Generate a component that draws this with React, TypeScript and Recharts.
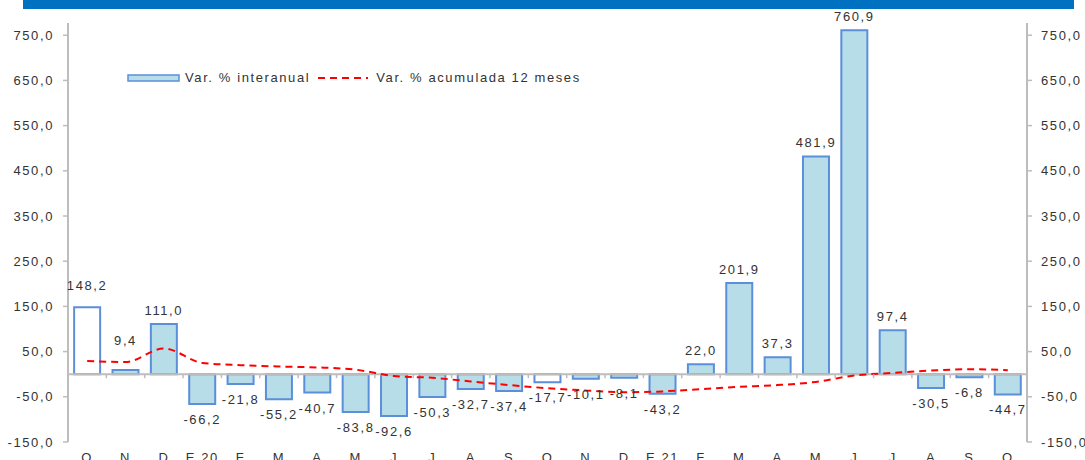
import React from 'react';
import { ComposedChart, Bar, Line, XAxis, YAxis, ReferenceLine, LabelList, Cell } from 'recharts';

const months = ['O', 'N', 'D', 'E 20', 'F', 'M', 'A', 'M', 'J', 'J', 'A', 'S', 'O', 'N', 'D', 'E 21', 'F', 'M', 'A', 'M', 'J', 'J', 'A', 'S', 'O'];
const interanual = [148.2, 9.4, 111.0, -66.2, -21.8, -55.2, -40.7, -83.8, -92.6, -50.3, -32.7, -37.4, -17.7, -10.1, -8.1, -43.2, 22.0, 201.9, 37.3, 481.9, 760.9, 97.4, -30.5, -6.8, -44.7];
const acumulada = [29, 27, 57, 25, 20, 17, 15, 10, -4, -8, -16, -24, -31, -36, -40, -38, -33, -28, -24, -17, -3, 3, 8, 11, 9];
const yTicks = [-150, -50, 50, 150, 250, 350, 450, 550, 650, 750];
// October bars of the first two years are drawn hollow
const hollowBars = [0, 12];

const data = months.map((m, i) => ({ id: i, v: interanual[i], a: acumulada[i] }));

const W = 1085;
const H = 460;
const LEFT = 68;
const RIGHT_W = 58;
const TOP = 23;
const X_H = 18;
const DOMAIN: [number, number] = [-150, 777];
const PLOT_W = W - LEFT - RIGHT_W;
const PLOT_H = H - TOP - X_H;
const BAND = PLOT_W / months.length;
const zeroY = TOP + (PLOT_H * DOMAIN[1]) / (DOMAIN[1] - DOMAIN[0]);

const FONT = '"Liberation Sans", Arial, sans-serif';
const TXT = '#333';
const AXIS = '#bdbdbd';
const FILL = '#b7dde8';
const EDGE = '#5b8fd9';
const LS = 1.6;

const fmt = (v: number) => v.toFixed(1).replace('.', ',');

// a couple of labels were nudged up in the source
const labelNudge: Record<number, number> = { 0: 8, 1: 16 };

const XTick = (props: any) => {
  const { x, payload } = props;
  const i = payload.value as number;
  return (
    <g>
      <line x1={x - BAND / 2} x2={x - BAND / 2} y1={zeroY} y2={zeroY + 4} stroke={AXIS} strokeWidth={1.5} />
      <text x={x} y={462} textAnchor="middle" fontSize={13} fill={TXT} fontFamily={FONT} letterSpacing={LS}>
        {months[i]}
      </text>
    </g>
  );
};

const BarLabel = (props: any) => {
  const { x, y, width, height, value, index } = props;
  const top = Math.min(y, y + height);
  const bottom = Math.max(y, y + height);
  const cx = x + width / 2;
  const ty = value >= 0 ? top - 9 - (labelNudge[index] || 0) : bottom + 20;
  return (
    <text x={cx} y={ty} textAnchor="middle" fontSize={13} fill={TXT} fontFamily={FONT} letterSpacing={LS}>
      {fmt(value)}
    </text>
  );
};

const LegendBox = () => (
  <div
    style={{
      position: 'absolute',
      left: 127,
      top: 70,
      display: 'flex',
      alignItems: 'center',
      fontFamily: FONT,
      fontSize: 13,
      color: TXT,
      letterSpacing: LS,
      whiteSpace: 'nowrap',
    }}
  >
    <svg width={54} height={10}>
      <rect x={1} y={2} width={51} height={6} fill={FILL} stroke={EDGE} strokeWidth={1.5} />
    </svg>
    <span style={{ marginLeft: 4 }}>Var. % interanual</span>
    <svg width={56} height={10} style={{ marginLeft: 8 }}>
      <line x1={0} x2={50} y1={5} y2={5} stroke="#ff0000" strokeWidth={2} strokeDasharray="7 5" />
    </svg>
    <span style={{ marginLeft: 2 }}>Var. % acumulada 12 meses</span>
  </div>
);

export default function App() {
  return (
    <div style={{ position: 'absolute', left: 0, top: 0, width: W, height: H, background: '#fff', overflow: 'hidden' }}>
      <div style={{ position: 'absolute', left: 23, top: 0, width: 1051, height: 9, background: '#0070c0' }} />
      <ComposedChart width={W} height={H} data={data} margin={{ top: TOP, right: 0, bottom: 0, left: 0 }} barCategoryGap="16%">
        <XAxis dataKey="id" type="category" height={X_H} axisLine={false} tickLine={false} tick={<XTick />} interval={0} />
        <YAxis
          yAxisId="left"
          width={LEFT}
          domain={DOMAIN}
          ticks={yTicks}
          allowDataOverflow
          tickFormatter={fmt}
          axisLine={{ stroke: AXIS, strokeWidth: 2 }}
          tickLine={{ stroke: AXIS, strokeWidth: 1.5 }}
          tickSize={5}
          tickMargin={9}
          tick={{ fontSize: 13, fill: TXT, fontFamily: FONT, letterSpacing: LS }}
        />
        <YAxis
          yAxisId="right"
          orientation="right"
          width={RIGHT_W}
          domain={DOMAIN}
          ticks={yTicks}
          allowDataOverflow
          tickFormatter={fmt}
          axisLine={{ stroke: AXIS, strokeWidth: 2 }}
          tickLine={{ stroke: AXIS, strokeWidth: 1.5 }}
          tickSize={5}
          tickMargin={9}
          tick={{ fontSize: 13, fill: TXT, fontFamily: FONT, letterSpacing: LS, textAnchor: 'start' }}
        />
        <ReferenceLine yAxisId="left" y={0} stroke={AXIS} strokeWidth={2} />
        <Bar yAxisId="left" dataKey="v" stroke={EDGE} strokeWidth={2} isAnimationActive={false}>
          {data.map((d, i) => (
            <Cell key={i} fill={hollowBars.includes(i) ? '#ffffff' : FILL} />
          ))}
          <LabelList dataKey="v" content={<BarLabel />} />
        </Bar>
        <Line
          yAxisId="right"
          dataKey="a"
          type="monotone"
          stroke="#ff0000"
          strokeWidth={2}
          strokeDasharray="7 5"
          dot={false}
          activeDot={false}
          isAnimationActive={false}
        />
      </ComposedChart>
      <LegendBox />
    </div>
  );
}
